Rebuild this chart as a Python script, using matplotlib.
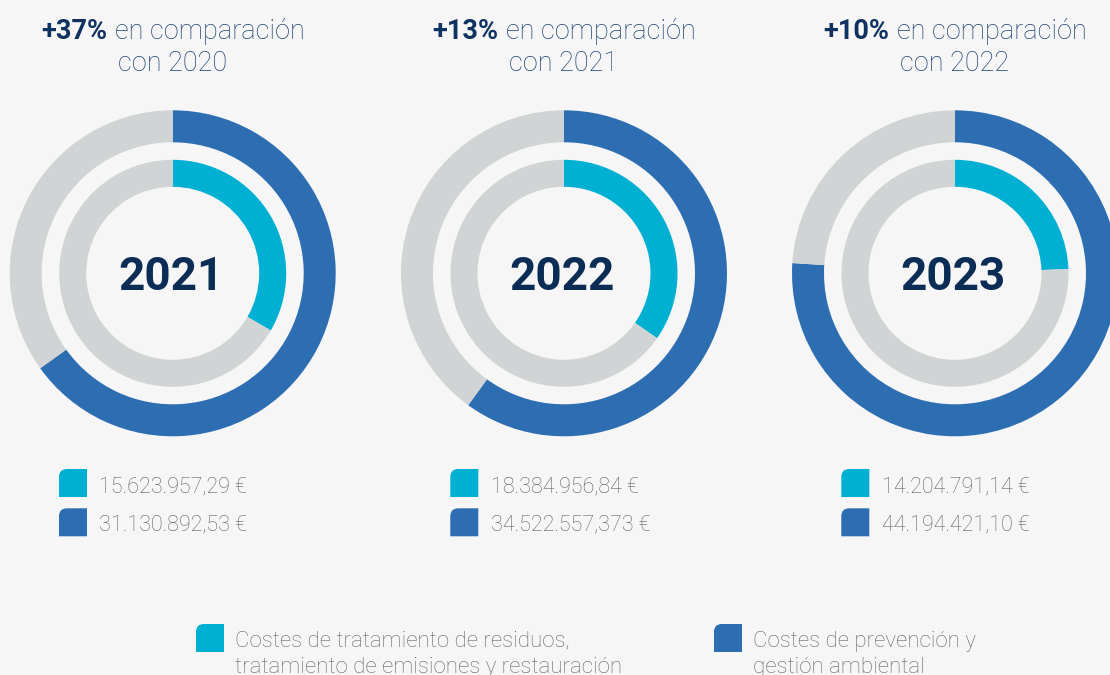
import matplotlib
matplotlib.use('Agg')
import matplotlib.pyplot as plt
from matplotlib.path import Path
from matplotlib.patches import PathPatch

# ---------------- data ----------------
years = ['2021', '2022', '2023']
changes = ['+37%', '+13%', '+10%']
compared_to = ['2020', '2021', '2022']
treatment_costs = ['15.623.957,29 €', '18.384.956,84 €', '14.204.791,14 €']
prevention_costs = ['31.130.892,53 €', '34.522.557,373 €', '44.194.421,10 €']
outer_share = [0.651, 0.600, 0.760]   # prevention ring (dark blue)
inner_share = [0.334, 0.347, 0.244]   # treatment ring (cyan)
legend_labels = ['Costes de tratamiento de residuos,\ntratamiento de emisiones y restauración',
                 'Costes de prevención y\ngestión ambiental']

# ---------------- style ----------------
BG = '#F6F6F6'
BLUE = '#2D6EB3'
CYAN = '#00B0D3'
GRAY = '#D1D4D5'
NAVY = '#0B2C55'
HEAD_BOLD = '#0F3260'
HEAD_LIGHT = '#1E4474'
VAL = '#626262'
LEG = '#666666'
FONT = ['Roboto', 'DejaVu Sans']

W, H = 1110, 675
fig = plt.figure(figsize=(11.1, 6.75), dpi=100, facecolor=BG)
ax = fig.add_axes([0, 0, 1, 1])
ax.set_facecolor(BG)


def Y(py):
    return H - py


def leaf(x0, ytop, s=28, r=8, color=CYAN):
    top = Y(ytop)
    bot = top - s
    verts = [(x0, bot), (x0 + s, bot), (x0 + s, top), (x0 + r, top),
             (x0, top), (x0, top - r), (x0, bot)]
    codes = [Path.MOVETO, Path.LINETO, Path.LINETO, Path.LINETO,
             Path.CURVE3, Path.CURVE3, Path.CLOSEPOLY]
    ax.add_patch(PathPatch(Path(verts, codes), facecolor=color, edgecolor='none'))


centers_x = [172.7, 564.0, 955.0]
cy_px = 273.3

for i, cx in enumerate(centers_x):
    cy = Y(cy_px)
    ax.pie([outer_share[i], 1 - outer_share[i]], colors=[BLUE, GRAY], startangle=90,
           counterclock=False, radius=163, center=(cx, cy),
           wedgeprops=dict(width=32, linewidth=0))
    ax.pie([inner_share[i], 1 - inner_share[i]], colors=[CYAN, GRAY], startangle=90,
           counterclock=False, radius=113.5, center=(cx, cy),
           wedgeprops=dict(width=27, linewidth=0))
    ax.text(cx - 2, Y(276.7), years[i], ha='center', va='center', fontsize=33,
            fontweight='bold', color=NAVY, family=FONT)

    # legend rows under each donut
    lx = cx - 113.7
    leaf(lx, 469, color=CYAN)
    leaf(lx, 508.3, color=BLUE)
    ax.text(cx - 73.4, Y(492.3), treatment_costs[i], ha='left', va='baseline',
            fontsize=15.5, fontweight='light', color=VAL, family=FONT)
    ax.text(cx - 73.4, Y(530), prevention_costs[i], ha='left', va='baseline',
            fontsize=15.5, fontweight='light', color=VAL, family=FONT)

ax.set_xlim(0, W)
ax.set_ylim(0, H)
ax.set_aspect('equal')
ax.axis('off')

# headers (bold + light on same line, centred)
HS = 19.5
fig.canvas.draw()
renderer = fig.canvas.get_renderer()
for i, cx in enumerate(centers_x):
    tb = ax.text(0, Y(39.3), changes[i], ha='left', va='baseline', fontsize=HS,
                 fontweight='bold', color=HEAD_BOLD, family=FONT)
    tl = ax.text(0, Y(39.3), 'en comparación', ha='left', va='baseline', fontsize=HS,
                 fontweight='light', color=HEAD_LIGHT, family=FONT)
    wb = tb.get_window_extent(renderer).width
    wl = tl.get_window_extent(renderer).width
    gap = 7.5
    x0 = cx - (wb + gap + wl) / 2
    tb.set_x(x0)
    tl.set_x(x0 + wb + gap)
    ax.text(cx, Y(70.7), 'con ' + compared_to[i], ha='center', va='baseline',
            fontsize=HS, fontweight='light', color=HEAD_LIGHT, family=FONT)

# bottom legend
leaf(196, 624, color=CYAN)
leaf(714, 624, color=BLUE)
for lx, label in zip([235, 753], legend_labels):
    for k, line in enumerate(label.split('\n')):
        ax.text(lx, Y(646.7 + 26 * k), line, ha='left', va='baseline', fontsize=16,
                fontweight='light', color=LEG, family=FONT)

fig.savefig('out.png', dpi=100, facecolor=BG)
